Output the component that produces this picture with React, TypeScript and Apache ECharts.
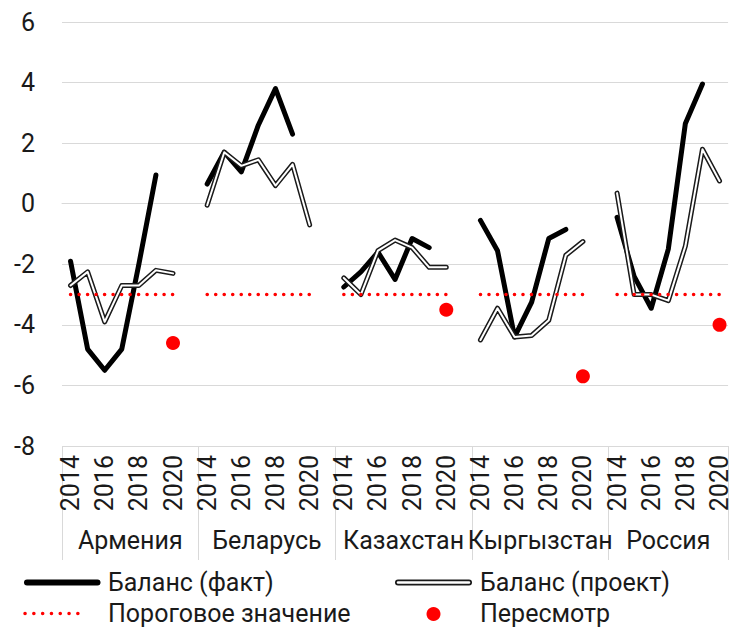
import React, { useEffect, useRef } from 'react';
import * as echarts from 'echarts';

const countries = ['Армения', 'Беларусь', 'Казахстан', 'Кыргызстан', 'Россия'];
const years = ['2014', '2015', '2016', '2017', '2018', '2019', '2020'];
const shownYears = ['2014', '2016', '2018', '2020'];

// Баланс (факт)
const factArmenia = [-1.9, -4.8, -5.5, -4.8, -2.0, 0.95, null];
const factBelarus = [0.65, 1.7, 1.05, 2.6, 3.8, 2.3, null];
const factKazakhstan = [-2.75, -2.25, -1.6, -2.5, -1.15, -1.45, null];
const factKyrgyzstan = [-0.55, -1.55, -4.4, -3.25, -1.15, -0.85, null];
const factRussia = [-0.45, -2.4, -3.45, -1.5, 2.65, 3.95, null];

// Баланс (проект)
const projArmenia = [-2.7, -2.25, -3.9, -2.7, -2.7, -2.2, -2.3];
const projBelarus = [-0.05, 1.7, 1.25, 1.45, 0.6, 1.3, -0.7];
const projKazakhstan = [-2.45, -3.0, -1.55, -1.2, -1.45, -2.1, -2.1];
const projKyrgyzstan = [-4.5, -3.45, -4.4, -4.35, -3.85, -1.7, -1.25];
const projRussia = [0.35, -3.0, -3.0, -3.2, -1.4, 1.8, 0.75];

// Пересмотр (2020)
const revision = [-4.6, null, -3.5, -5.7, -4.0];

// Пороговое значение
const threshold = -3;

const factGroups = [factArmenia, factBelarus, factKazakhstan, factKyrgyzstan, factRussia];
const projGroups = [projArmenia, projBelarus, projKazakhstan, projKyrgyzstan, projRussia];

const FONT = 'Roboto';
const TEXT = '#1a1a1a';
const FS = 25;

export default function App() {
  const ref = useRef<HTMLDivElement>(null);

  useEffect(() => {
    if (!ref.current) return;
    const chart = echarts.init(ref.current, null, { renderer: 'svg' });

    const categories: string[] = [];
    const fact: (number | null)[] = [];
    const proj: (number | null)[] = [];
    const thr: (number | null)[] = [];
    const rev: (number | null)[] = [];
    const groupStart: number[] = [];
    const groupSize: number[] = [];
    countries.forEach((c, gi) => {
      groupStart.push(categories.length);
      years.forEach((y, yi) => {
        categories.push(c + '|' + y);
        fact.push(factGroups[gi][yi]);
        proj.push(projGroups[gi][yi]);
        thr.push(threshold);
        rev.push(yi === years.length - 1 ? revision[gi] : null);
      });
      if (gi < countries.length - 1) {
        categories.push(c + '|');
        fact.push(null);
        proj.push(null);
        thr.push(null);
        rev.push(null);
      }
      groupSize.push(categories.length - groupStart[gi]);
    });
    const total = categories.length;
    const boundaries = [...groupStart, total];
    const centers = groupStart.map((s, i) => s + groupSize[i] / 2);
    const centerName: Record<string, string> = {};
    centers.forEach((v, i) => (centerName[String(v)] = countries[i]));

    const textStyle = { fontFamily: FONT, fontSize: FS, color: TEXT };

    chart.setOption({
      animation: false,
      backgroundColor: '#ffffff',
      grid: { left: 62, right: 1, top: 22, bottom: 182, containLabel: false },
      xAxis: [
        {
          type: 'category',
          data: categories,
          boundaryGap: true,
          axisLine: { show: true, lineStyle: { color: '#d9d9d9', width: 1 } },
          axisTick: { show: false },
          splitLine: { show: false },
          axisLabel: {
            ...textStyle,
            rotate: 90,
            margin: 9,
            interval: (_i: number, v: string) => shownYears.includes(v.split('|')[1]),
            formatter: (v: string) => v.split('|')[1],
          },
        },
        {
          type: 'value',
          position: 'bottom',
          min: 0,
          max: total,
          axisLine: { show: false },
          splitLine: { show: false },
          axisTick: {
            show: true,
            customValues: boundaries,
            length: 114,
            lineStyle: { color: '#d9d9d9', width: 1 },
          },
          axisLabel: {
            ...textStyle,
            customValues: centers,
            margin: 82,
            formatter: (v: number) => centerName[String(v)] || '',
          },
        },
      ],
      yAxis: {
        type: 'value',
        min: -8,
        max: 6,
        interval: 2,
        axisLine: { show: false },
        axisTick: { show: false },
        splitLine: { lineStyle: { color: '#d9d9d9', width: 1 } },
        axisLabel: { ...textStyle, margin: 27 },
      },
      series: [
        {
          name: 'Баланс (факт)',
          type: 'line',
          data: fact,
          symbol: 'none',
          connectNulls: false,
          lineStyle: { color: '#000000', width: 5, cap: 'round', join: 'round' },
          z: 3,
        },
        {
          name: 'Баланс (проект)',
          type: 'line',
          data: proj,
          symbol: 'none',
          connectNulls: false,
          lineStyle: { color: '#1a1a1a', width: 5, cap: 'round', join: 'round' },
          z: 4,
        },
        {
          name: 'Баланс (проект) inner',
          type: 'line',
          data: proj,
          symbol: 'none',
          connectNulls: false,
          lineStyle: { color: '#ffffff', width: 2, cap: 'round', join: 'round' },
          z: 5,
        },
        {
          name: 'Пороговое значение',
          type: 'line',
          data: thr,
          symbol: 'none',
          connectNulls: false,
          lineStyle: { color: '#ff0000', width: 3.5, type: [0.1, 8.4], cap: 'round' },
          z: 6,
        },
        {
          name: 'Пересмотр',
          type: 'scatter',
          data: rev,
          symbol: 'circle',
          symbolSize: 14,
          itemStyle: { color: '#ff0000', opacity: 1 },
          z: 7,
        },
      ],
      graphic: [
        { type: 'line', shape: { x1: 27, y1: 582.5, x2: 97.5, y2: 582.5 }, style: { stroke: '#000', lineWidth: 6, lineCap: 'round' } },
        { type: 'text', x: 108, y: 582.5, style: { text: 'Баланс (факт)', fontFamily: FONT, fontSize: FS, fill: TEXT, verticalAlign: 'middle' } },
        { type: 'line', shape: { x1: 398, y1: 582.5, x2: 469, y2: 582.5 }, style: { stroke: '#1a1a1a', lineWidth: 6, lineCap: 'round' } },
        { type: 'line', shape: { x1: 398, y1: 582.5, x2: 469, y2: 582.5 }, style: { stroke: '#ffffff', lineWidth: 2.4, lineCap: 'round' } },
        { type: 'text', x: 480, y: 582.5, style: { text: 'Баланс (проект)', fontFamily: FONT, fontSize: FS, fill: TEXT, verticalAlign: 'middle' } },
        { type: 'line', shape: { x1: 25, y1: 613.5, x2: 86.5, y2: 613.5 }, style: { stroke: '#ff0000', lineWidth: 3.5, lineDash: [0.1, 8.7], lineCap: 'round' } },
        { type: 'text', x: 108, y: 613.5, style: { text: 'Пороговое значение', fontFamily: FONT, fontSize: FS, fill: TEXT, verticalAlign: 'middle' } },
        { type: 'circle', shape: { cx: 433.5, cy: 614, r: 7 }, style: { fill: '#ff0000' } },
        { type: 'text', x: 480, y: 613.5, style: { text: 'Пересмотр', fontFamily: FONT, fontSize: FS, fill: TEXT, verticalAlign: 'middle' } },
      ],
    });

    return () => chart.dispose();
  }, []);

  return (
    <div
      ref={ref}
      style={{ position: 'absolute', left: 0, top: 0, width: 732, height: 628, background: '#fff' }}
    />
  );
}
